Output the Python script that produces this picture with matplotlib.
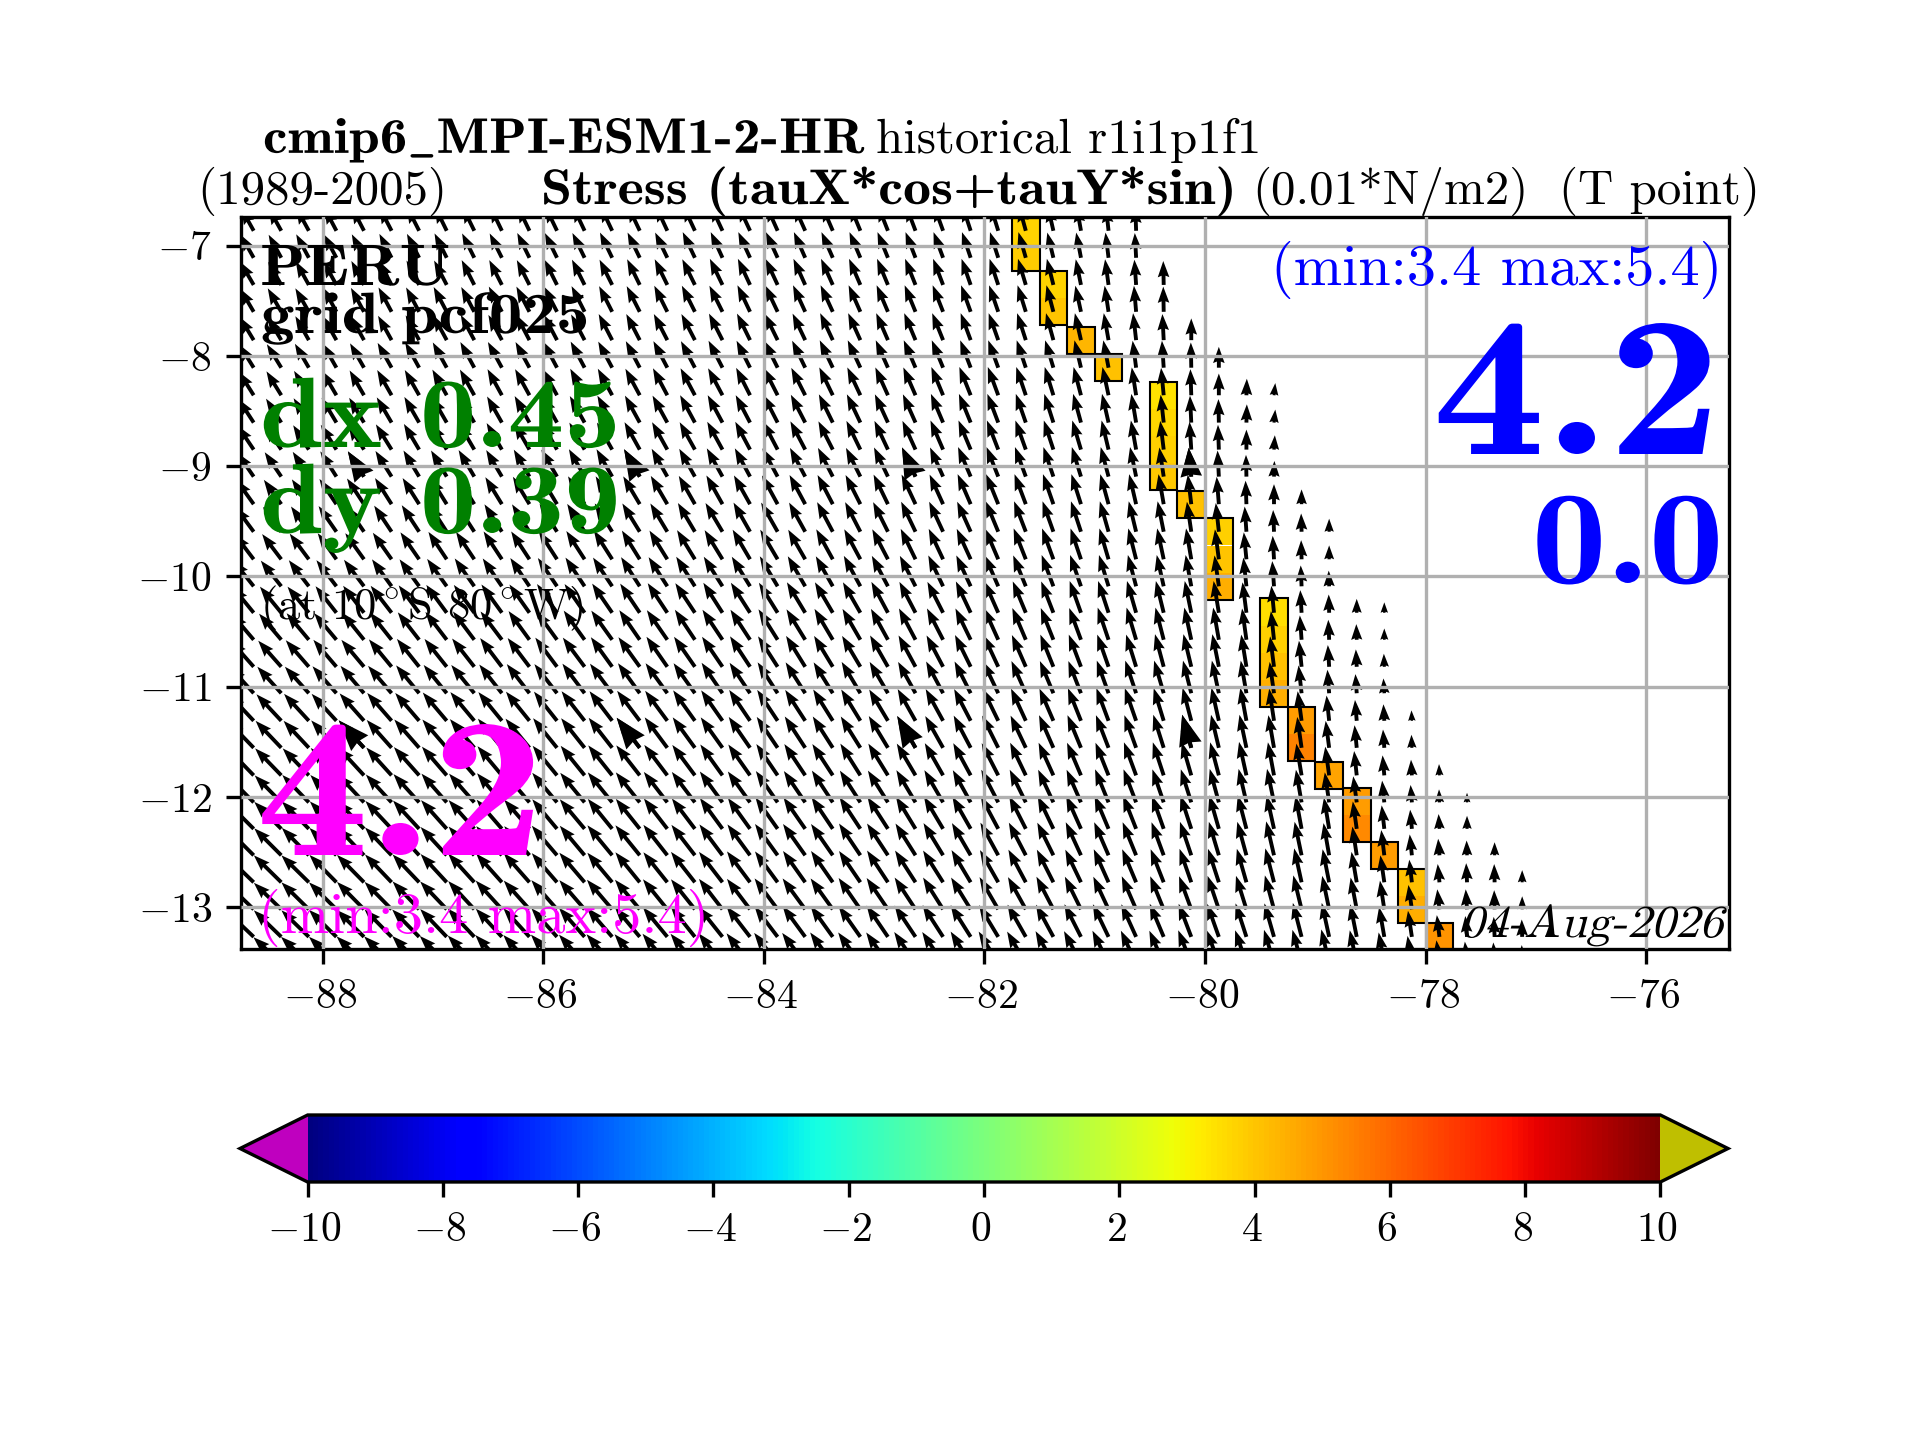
import numpy as np
import matplotlib
matplotlib.use("Agg")
import matplotlib.pyplot as plt
from matplotlib.colors import Normalize
from matplotlib.cm import ScalarMappable
from matplotlib.patheffects import AbstractPathEffect
from matplotlib.transforms import Affine2D, ScaledTranslation

plt.rcParams['font.family'] = ['cmr10', 'DejaVu Serif']
plt.rcParams['mathtext.fontset'] = 'cm'
plt.rcParams['axes.formatter.use_mathtext'] = True
plt.rcParams['axes.unicode_minus'] = False

# wind stress, in 0.001 N/m2, one list per latitude going east from LON_WEST
LON_WEST = -88.625
LATS = [-6.865, -7.11, -7.356, -7.6, -7.857, -8.107, -8.357, -8.605, -8.85, -9.095,
        -9.345, -9.595, -9.845, -10.09, -10.33, -10.575, -10.82, -11.06, -11.31,
        -11.555, -11.805, -12.05, -12.29, -12.53, -12.775, -13.02, -13.27, -13.51]

TAUX = [
    [-29,-29,-29,-28,-28,-28,-28,-27,-27,-27,-27,-27,-27,-27,-27,-27,-27,-27,-27,-26,-26,-25,-24,-23,-22,-21,-19,-18,-16,-13,-10,-6,-2],
    [-30,-29,-29,-29,-28,-28,-28,-28,-28,-28,-28,-28,-28,-28,-28,-28,-28,-27,-27,-27,-26,-26,-25,-24,-23,-22,-20,-19,-17,-14,-11,-7,-3],
    [-31,-30,-30,-30,-29,-29,-29,-29,-29,-29,-29,-29,-29,-29,-29,-29,-29,-29,-28,-28,-27,-27,-26,-25,-24,-23,-21,-20,-18,-15,-12,-8,-4,-1],
    [-31,-31,-31,-30,-30,-30,-30,-30,-30,-30,-30,-30,-30,-30,-30,-30,-30,-30,-29,-29,-28,-28,-27,-26,-25,-24,-22,-21,-19,-16,-13,-9,-5,-1],
    [-32,-32,-31,-31,-31,-31,-31,-31,-31,-31,-31,-31,-31,-31,-31,-31,-31,-31,-30,-30,-29,-29,-28,-27,-26,-25,-23,-22,-20,-17,-14,-11,-7,-3,0],
    [-33,-33,-32,-32,-32,-32,-32,-32,-32,-32,-32,-32,-32,-32,-32,-32,-32,-32,-31,-31,-30,-30,-29,-28,-27,-26,-24,-23,-21,-19,-15,-12,-8,-4,-1,0],
    [-34,-34,-34,-33,-33,-33,-33,-33,-33,-33,-33,-33,-33,-33,-33,-33,-33,-33,-32,-32,-32,-31,-30,-29,-28,-27,-26,-24,-22,-20,-17,-14,-10,-6,-2,0,1,3],
    [-35,-35,-35,-34,-34,-34,-34,-34,-34,-34,-34,-34,-34,-34,-34,-34,-34,-34,-33,-33,-33,-32,-31,-30,-29,-28,-27,-25,-23,-21,-18,-15,-11,-7,-3,-1,1,3],
    [-37,-37,-36,-36,-36,-36,-35,-35,-35,-35,-35,-35,-35,-35,-35,-35,-35,-35,-34,-34,-34,-33,-32,-31,-30,-29,-28,-26,-24,-22,-20,-16,-12,-8,-4,-2,0,2],
    [-38,-38,-37,-37,-37,-37,-36,-36,-36,-36,-36,-36,-36,-36,-36,-36,-36,-36,-35,-35,-35,-34,-33,-32,-31,-30,-29,-27,-25,-23,-21,-18,-14,-10,-6,-3,-1,1],
    [-40,-40,-39,-39,-39,-38,-38,-38,-38,-38,-38,-38,-38,-38,-38,-38,-37,-37,-37,-36,-36,-35,-34,-33,-32,-31,-30,-28,-26,-24,-22,-19,-16,-12,-8,-5,-2,0,0],
    [-42,-42,-41,-41,-41,-40,-40,-40,-40,-40,-40,-40,-40,-40,-40,-39,-39,-39,-38,-38,-37,-36,-35,-34,-33,-32,-31,-29,-27,-25,-23,-20,-17,-14,-10,-7,-4,-2,-1,0],
    [-44,-44,-44,-43,-43,-43,-43,-42,-42,-42,-42,-42,-42,-42,-41,-41,-41,-41,-40,-40,-39,-38,-37,-36,-34,-33,-32,-30,-28,-26,-24,-21,-18,-15,-12,-9,-6,-3,-1,0],
    [-47,-47,-46,-46,-46,-45,-45,-45,-45,-44,-44,-44,-44,-44,-43,-43,-43,-43,-42,-41,-40,-39,-38,-37,-36,-34,-33,-31,-29,-27,-25,-22,-19,-16,-13,-10,-7,-4,-2,-1],
    [-49,-49,-49,-48,-48,-48,-47,-47,-47,-47,-46,-46,-46,-46,-45,-45,-45,-44,-44,-43,-42,-41,-40,-38,-37,-36,-34,-32,-30,-28,-26,-24,-21,-18,-15,-12,-9,-6,-3,-1,0,0],
    [-51,-51,-51,-51,-50,-50,-49,-49,-49,-49,-48,-48,-48,-48,-47,-47,-46,-46,-45,-44,-43,-42,-41,-39,-38,-37,-35,-33,-31,-29,-27,-25,-22,-19,-16,-13,-10,-7,-4,-2,-1,0],
    [-53,-53,-53,-53,-52,-52,-51,-51,-51,-50,-50,-50,-50,-49,-49,-48,-48,-47,-46,-45,-44,-43,-42,-41,-39,-38,-36,-34,-32,-30,-28,-26,-23,-20,-18,-15,-12,-9,-6,-3,-2,-1],
    [-55,-55,-55,-55,-54,-54,-53,-53,-53,-52,-52,-52,-51,-51,-50,-50,-49,-48,-47,-46,-45,-44,-43,-42,-40,-39,-37,-35,-33,-31,-29,-27,-25,-22,-19,-16,-13,-10,-7,-4,-3,-2],
    [-57,-57,-57,-57,-56,-56,-55,-55,-55,-54,-54,-53,-53,-52,-52,-51,-50,-49,-48,-47,-46,-45,-44,-43,-41,-40,-38,-36,-34,-32,-30,-28,-26,-23,-20,-17,-14,-11,-9,-6,-4,-2,-1],
    [-59,-59,-58,-58,-58,-57,-57,-56,-56,-55,-55,-55,-54,-54,-53,-52,-51,-50,-49,-48,-47,-46,-45,-44,-42,-41,-39,-37,-35,-33,-31,-29,-27,-24,-21,-18,-16,-13,-10,-8,-5,-3,-1],
    [-60,-60,-60,-59,-59,-58,-58,-57,-57,-56,-56,-56,-55,-55,-54,-53,-52,-51,-50,-49,-48,-47,-46,-45,-43,-42,-40,-38,-36,-34,-32,-30,-28,-25,-22,-20,-17,-14,-12,-9,-6,-4,-2,-1],
    [-61,-61,-61,-60,-60,-59,-59,-58,-58,-57,-57,-57,-56,-56,-55,-54,-53,-52,-51,-50,-49,-48,-47,-46,-44,-43,-41,-39,-37,-35,-33,-31,-29,-26,-24,-21,-18,-16,-13,-10,-8,-5,-3,-1,0],
    [-62,-62,-62,-61,-61,-60,-60,-59,-59,-58,-58,-57,-57,-56,-55,-54,-53,-52,-51,-51,-50,-49,-48,-47,-45,-44,-42,-40,-38,-36,-34,-32,-30,-27,-25,-22,-20,-17,-14,-12,-9,-6,-4,-2,0],
    [-62,-62,-62,-62,-61,-61,-60,-60,-59,-59,-58,-58,-57,-57,-56,-55,-54,-53,-52,-52,-51,-50,-49,-48,-46,-45,-43,-41,-39,-37,-35,-33,-31,-28,-26,-23,-21,-18,-16,-13,-10,-7,-5,-3,-1,0],
    [-63,-63,-63,-62,-62,-61,-61,-60,-60,-59,-59,-58,-58,-57,-56,-55,-55,-54,-53,-52,-51,-50,-49,-48,-47,-46,-44,-42,-40,-38,-36,-34,-32,-30,-27,-25,-22,-20,-17,-15,-12,-9,-6,-4,-2,-1,0],
    [-63,-63,-63,-63,-62,-62,-61,-61,-60,-60,-59,-59,-58,-58,-57,-56,-55,-54,-53,-53,-52,-51,-50,-49,-48,-46,-45,-43,-41,-39,-37,-35,-33,-31,-28,-26,-24,-21,-19,-16,-14,-10,-8,-5,-3,-1,0],
    [-63,-63,-63,-63,-63,-62,-62,-61,-61,-60,-60,-59,-59,-58,-57,-56,-55,-55,-54,-53,-52,-51,-50,-49,-48,-47,-46,-44,-42,-40,-38,-36,-34,-32,-29,-27,-25,-22,-20,-17,-15,-12,-9,-6,-4,-2,-1,0],
    [-64,-64,-64,-63,-63,-63,-62,-62,-61,-61,-60,-60,-59,-59,-58,-57,-56,-55,-54,-54,-53,-52,-51,-50,-49,-48,-46,-45,-43,-41,-39,-37,-35,-33,-30,-28,-26,-23,-21,-18,-16,-13,-10,-7,-5,-3,-1,0],
]

TAUY = [
    [52,52,53,53,54,54,55,55,55,56,56,56,57,57,57,58,58,58,58,58,58,58,58,58,58,58,58,58,58,57,57,56,55],
    [53,53,54,54,54,55,55,56,56,56,57,57,57,58,58,58,59,59,59,59,59,59,59,59,59,59,59,59,59,58,58,58,57],
    [53,53,54,54,55,55,56,56,57,57,57,58,58,58,59,59,59,60,60,60,60,60,60,60,60,60,60,60,60,60,59,59,58,55],
    [53,54,54,55,55,56,56,57,57,58,58,58,59,59,59,60,60,60,61,61,61,61,61,61,61,61,61,61,61,61,60,60,60,58],
    [53,54,55,55,56,56,57,57,58,58,59,59,59,60,60,60,60,61,61,61,61,62,62,62,62,62,62,62,62,62,62,62,62,60,50],
    [53,54,55,56,56,57,58,58,59,59,59,60,60,60,61,61,61,62,62,62,62,63,63,63,63,63,63,63,63,63,63,63,62,62,58,48],
    [54,55,56,56,57,58,58,59,59,60,60,60,61,61,61,62,62,62,63,63,63,64,64,64,64,65,65,65,65,65,65,65,64,63,60,50,38,28],
    [54,55,56,57,57,58,59,59,60,60,61,61,61,62,62,62,63,63,63,64,64,65,65,65,65,66,66,66,66,66,66,66,66,64,62,54,42,30],
    [55,55,56,57,58,58,59,60,60,61,61,62,62,62,63,63,63,64,64,65,65,65,66,66,66,67,67,67,67,67,67,67,67,66,64,57,46,33],
    [55,56,57,58,58,59,60,60,61,61,62,62,63,63,63,64,64,65,65,65,66,66,66,67,67,67,68,68,68,68,68,68,68,67,66,60,50,36],
    [56,56,57,58,59,60,60,61,62,62,63,63,64,64,64,65,65,66,66,66,67,67,67,68,68,68,69,69,69,69,69,69,69,69,68,63,54,46,34],
    [57,57,58,59,60,60,61,62,62,63,63,64,64,65,65,65,66,66,67,67,67,68,68,68,69,69,69,70,70,70,70,70,70,70,69,66,58,50,42,30],
    [58,58,59,60,60,61,62,63,63,64,64,65,65,66,66,66,67,67,68,68,68,69,69,69,70,70,70,70,71,71,71,71,71,71,71,69,62,54,44,32],
    [59,59,60,60,61,62,62,63,64,64,65,65,66,66,67,67,68,68,68,69,69,69,70,70,70,71,71,71,71,72,72,72,72,72,72,71,66,58,48,36],
    [60,60,60,61,62,62,63,64,64,65,65,66,66,67,67,68,68,69,69,69,70,70,70,71,71,71,72,72,72,72,73,73,73,73,73,73,70,62,52,42,32,24],
    [60,60,61,61,62,63,63,64,65,65,66,66,67,67,68,68,69,69,69,70,70,71,71,71,72,72,72,73,73,73,73,74,74,74,74,74,72,66,56,46,36,26],
    [60,60,61,62,62,63,64,64,65,66,66,67,67,68,68,69,69,69,70,70,71,71,71,72,72,72,73,73,73,74,74,74,74,75,75,75,74,70,60,50,40,30],
    [61,61,61,62,63,63,64,65,65,66,67,67,68,68,69,69,69,70,70,71,71,71,72,72,72,73,73,73,74,74,74,75,75,75,75,75,75,72,64,54,44,34],
    [61,61,62,62,63,64,64,65,66,66,67,67,68,68,69,69,70,70,71,71,71,72,72,72,73,73,73,74,74,74,75,75,75,75,76,76,76,74,68,58,48,38,24],
    [61,62,62,63,63,64,65,65,66,67,67,68,68,69,69,70,70,70,71,71,72,72,72,73,73,73,74,74,74,75,75,75,75,76,76,76,76,75,71,62,52,42,30],
    [62,62,62,63,64,64,65,66,66,67,67,68,68,69,69,70,70,71,71,72,72,72,73,73,73,74,74,74,75,75,75,75,76,76,76,76,77,76,73,66,56,46,36,26],
    [62,62,63,63,64,64,65,66,66,67,67,68,68,69,69,70,70,71,71,72,72,73,73,73,74,74,74,75,75,75,75,76,76,76,76,77,77,77,75,69,60,50,40,30,22],
    [62,62,63,63,64,64,65,66,66,67,67,68,68,69,69,70,70,71,71,72,72,73,73,73,74,74,74,75,75,75,76,76,76,76,77,77,77,77,76,72,63,54,44,34,30],
    [62,62,63,63,64,64,65,65,66,67,67,68,68,69,69,70,70,71,71,72,72,72,73,73,73,74,74,75,75,75,76,76,76,76,77,77,77,78,77,74,66,58,48,38,34,30],
    [61,62,62,63,63,64,64,65,66,66,67,67,68,68,69,69,70,70,71,71,72,72,72,73,73,73,74,74,75,75,75,76,76,76,77,77,77,78,78,76,70,62,52,42,44,42,28],
    [61,61,62,62,63,63,64,64,65,66,66,67,67,68,68,69,69,70,70,71,71,71,72,72,73,73,73,74,74,75,75,75,76,76,76,77,77,78,78,77,73,66,56,46,46,44,30],
    [60,61,61,62,62,63,63,64,65,65,66,66,67,67,68,68,69,69,70,70,71,71,71,72,72,73,73,73,74,74,75,75,75,76,76,76,77,77,78,78,75,69,60,50,48,46,40,30],
    [60,60,61,61,62,62,63,63,64,65,65,66,66,67,67,68,68,69,69,70,70,71,71,71,72,72,73,73,73,74,74,75,75,75,76,76,76,77,77,78,76,71,63,53,50,48,42,32],
]

# nodes drawn with the heavier arrow head
BIG_LONS = [-87.625, -85.125, -82.625, -80.125]
BIG_LATS = [-9.095, -11.555]

# coastal cells of the stress value, one block number per outlined run
COAST_LON = [-81.625, -81.625, -81.375, -81.375, -81.125, -80.875, -80.375, -80.375, -80.375, -80.375,
             -80.125, -79.875, -79.875, -79.875, -79.375, -79.375, -79.375, -79.375, -79.125, -79.125,
             -78.875, -78.625, -78.625, -78.375, -78.125, -78.125, -77.875]
COAST_LAT = LATS[:27]
COAST_VAL = [3.7, 3.9, 3.7, 4.0, 4.3, 4.1, 3.4, 3.6, 3.8, 3.95,
             4.1, 3.75, 4.0, 4.5, 3.5, 3.8, 4.1, 4.5, 4.9, 5.4,
             4.7, 4.9, 5.3, 4.9, 4.1, 4.5, 5.0]
COAST_BLOCK = [0, 0, 1, 1, 2, 3, 4, 4, 4, 4,
               5, 6, 6, 6, 7, 7, 7, 7, 8, 8,
               9, 10, 10, 11, 12, 12, 13]

X_TICKS = [-88, -86, -84, -82, -80, -78, -76]
Y_TICKS = [-7, -8, -9, -10, -11, -12, -13]
CBAR_TICKS = [-10, -8, -6, -4, -2, 0, 2, 4, 6, 8, 10]

W, H = 1920, 1440
CELL_W, CELL_H = 0.25, 0.2463


class Warp(AbstractPathEffect):
    # stretches and slants a text about its anchor, the bundled cm fonts have no bold extended or text italic
    def __init__(self, x0, y0, sx=1.0, slant=0.0):
        super().__init__()
        self.warp = Affine2D().translate(-x0, -y0).skew_deg(slant, 0).scale(sx, 1).translate(x0, y0)

    def draw_path(self, renderer, gc, tpath, affine, rgbFace=None):
        renderer.draw_path(gc, tpath, affine + self.warp, rgbFace)


def put(x, y, s, size, color='black', font='cmr10', ha='left', sx=1.0, slant=0.0):
    # x, y in pixels from the top left, y is the baseline
    t = fig.text(x / W, 1 - y / H, s, fontsize=size, color=color, ha=ha, va='baseline',
                 family=[font, 'DejaVu Serif'])
    if sx != 1.0 or slant != 0.0:
        t.set_path_effects([Warp(x, H - y, sx, slant)])


fig = plt.figure(figsize=(6.4, 4.8), dpi=300)
ax = fig.add_axes([241 / W, 1 - 949 / H, (1729 - 241) / W, (949 - 217) / H])

cmap = plt.get_cmap('jet').copy()
cmap.set_under((0.75, 0, 0.75))
cmap.set_over((0.75, 0.75, 0))
norm = Normalize(-10, 10)

# coastal cells, then a black outline around each run
lon_c = np.array(COAST_LON)
lat_c = np.array(COAST_LAT)
blocks = np.array(COAST_BLOCK)
ax.bar(lon_c, CELL_H, width=CELL_W, bottom=lat_c - CELL_H / 2, color=cmap(norm(COAST_VAL)), zorder=1)
for b in np.unique(blocks):
    sel = blocks == b
    ax.bar(lon_c[sel][0], CELL_H * sel.sum(), width=CELL_W, bottom=lat_c[sel].min() - CELL_H / 2,
           fill=False, edgecolor='black', linewidth=0.5, zorder=1.2)

# arrows
lons, lats, tx, ty = [], [], [], []
for lat, row_x, row_y in zip(LATS, TAUX, TAUY):
    for i, (u, v) in enumerate(zip(row_x, row_y)):
        lons.append(LON_WEST + 0.25 * i)
        lats.append(lat)
        tx.append(u)
        ty.append(v)
lons, lats, tx, ty = map(np.array, (lons, lats, tx, ty))
ax.quiver(lons, lats, tx, ty, angles='uv', scale_units='dots', scale=2.3, pivot='tail',
          width=0.0026, headwidth=3, headlength=4.2, headaxislength=3.8,
          color='black', zorder=1.5)

big = np.isin(lons, BIG_LONS) & np.isin(lats, BIG_LATS)
ax.quiver(lons[big], lats[big], tx[big], ty[big], angles='uv', scale_units='dots', scale=2.3,
          pivot='tail', width=0.0026, headwidth=6, headlength=8, headaxislength=7.5,
          color='black', zorder=1.5)

ax.set_xlim(-88.74, -75.25)
ax.set_ylim(-13.38, -6.74)
ax.set_xticks(X_TICKS, [f'${t}$' for t in X_TICKS])
ax.set_yticks(Y_TICKS, [f'${t}$' for t in Y_TICKS])
ax.grid(True)
ax.set_axisbelow(False)

# colour bar, the axes spans tip to tip of the extensions
cax = fig.add_axes([240 / W, 1 - 1182 / H, (1728 - 240) / W, (1182 - 1115) / H])
cb = fig.colorbar(ScalarMappable(norm=norm, cmap=cmap), cax=cax, orientation='horizontal',
                  extend='both', extendfrac=0.05)
cb.set_ticks(CBAR_TICKS, labels=[f'${t}$' for t in CBAR_TICKS])
cb.minorticks_off()

# tick labels sit a little left of their ticks in the reference
nudge = ScaledTranslation(-3 / 300, 0, fig.dpi_scale_trans)
for label in ax.get_xticklabels() + cax.get_xticklabels():
    label.set_transform(label.get_transform() + nudge)

# titles
put(263, 153, r'cmip6$\_$MPI-ESM1-2-HR', 12, font='cmb10', sx=1.107)
put(876, 153, 'historical r1i1p1f1', 11.75)
put(197, 204, '(1989-2005)', 11.75)
put(541, 204, 'Stress (tauX*cos+tauY*sin)', 12, font='cmb10', sx=1.118)
put(1252, 204, '(0.01*N/m2)', 11.75)
put(1559, 204, '(T point)', 11.75)

# left annotations
put(260, 285, 'PERU', 14, font='cmb10', sx=1.14)
put(261, 333, 'grid pcf025', 14, font='cmb10', sx=1.15)
put(260, 447, 'dx 0.45', 24, color='green', font='cmb10', sx=1.13)
put(260, 533, 'dy 0.39', 24, color='green', font='cmb10', sx=1.13)
put(260, 619, r'(at 10$^\circ$S 80$^\circ$W)', 10.7)
put(256, 855, '4.2', 48, color='magenta', font='cmb10', sx=1.13)
put(258, 933, '(min:3.4 max:5.4)', 14, color='magenta')

# right annotations
put(1722, 285, '(min:3.4 max:5.4)', 14, color='blue', ha='right')
put(1721, 454, '4.2', 48, color='blue', font='cmb10', ha='right', sx=1.13)
put(1724, 583, '0.0', 32, color='blue', font='cmb10', ha='right', sx=1.13)
put(1723, 937, '04-Aug-2026', 11, ha='right', slant=14, sx=1.05)

fig.savefig('out.png', dpi=300)
